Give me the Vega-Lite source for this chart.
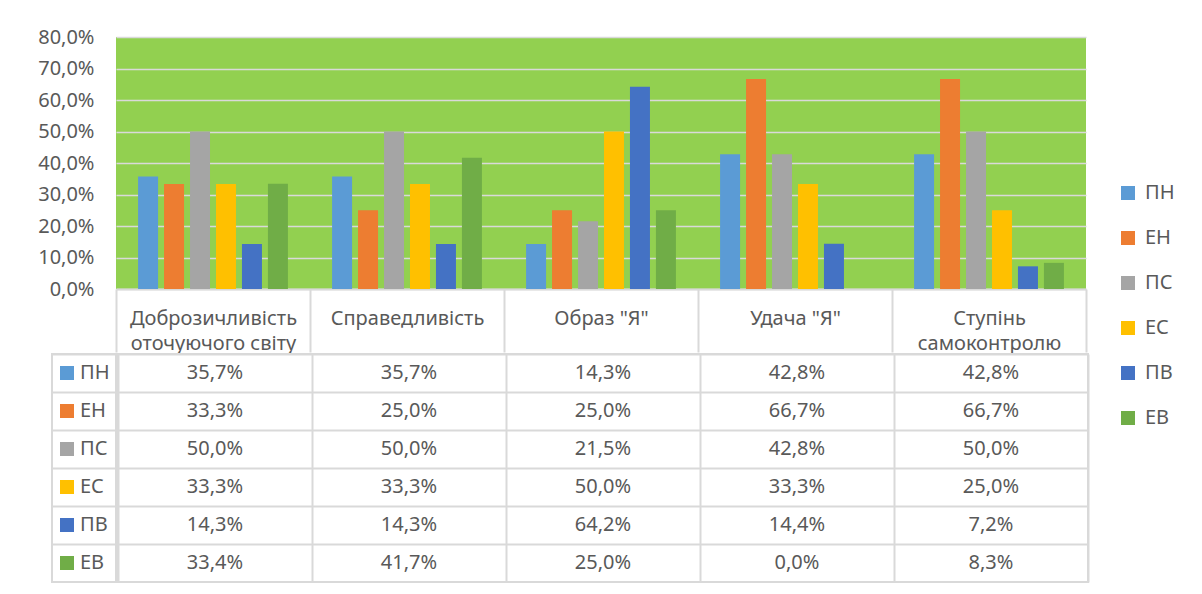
{
  "$schema": "https://vega.github.io/schema/vega-lite/v6.json",
  "padding": {"left": 37, "top": 27, "right": 0, "bottom": 0},
  "background": "white",
  "config": {
    "locale": {"number": {"decimal": ",", "thousands": " ", "grouping": [3], "currency": ["", ""]}},
    "font": "Noto Sans",
    "view": {"stroke": null},
    "concat": {"spacing": 0}
  },
  "datasets": {
    "vals": [
      {"category": "Доброзичливість оточуючого світу", "series": "ПН", "value": 0.357},
      {"category": "Доброзичливість оточуючого світу", "series": "ЕН", "value": 0.333},
      {"category": "Доброзичливість оточуючого світу", "series": "ПС", "value": 0.5},
      {"category": "Доброзичливість оточуючого світу", "series": "ЕС", "value": 0.333},
      {"category": "Доброзичливість оточуючого світу", "series": "ПВ", "value": 0.143},
      {"category": "Доброзичливість оточуючого світу", "series": "ЕВ", "value": 0.334},
      {"category": "Справедливість", "series": "ПН", "value": 0.357},
      {"category": "Справедливість", "series": "ЕН", "value": 0.25},
      {"category": "Справедливість", "series": "ПС", "value": 0.5},
      {"category": "Справедливість", "series": "ЕС", "value": 0.333},
      {"category": "Справедливість", "series": "ПВ", "value": 0.143},
      {"category": "Справедливість", "series": "ЕВ", "value": 0.417},
      {"category": "Образ \"Я\"", "series": "ПН", "value": 0.143},
      {"category": "Образ \"Я\"", "series": "ЕН", "value": 0.25},
      {"category": "Образ \"Я\"", "series": "ПС", "value": 0.215},
      {"category": "Образ \"Я\"", "series": "ЕС", "value": 0.5},
      {"category": "Образ \"Я\"", "series": "ПВ", "value": 0.642},
      {"category": "Образ \"Я\"", "series": "ЕВ", "value": 0.25},
      {"category": "Удача \"Я\"", "series": "ПН", "value": 0.428},
      {"category": "Удача \"Я\"", "series": "ЕН", "value": 0.667},
      {"category": "Удача \"Я\"", "series": "ПС", "value": 0.428},
      {"category": "Удача \"Я\"", "series": "ЕС", "value": 0.333},
      {"category": "Удача \"Я\"", "series": "ПВ", "value": 0.144},
      {"category": "Удача \"Я\"", "series": "ЕВ", "value": 0.0},
      {"category": "Ступінь самоконтролю", "series": "ПН", "value": 0.428},
      {"category": "Ступінь самоконтролю", "series": "ЕН", "value": 0.667},
      {"category": "Ступінь самоконтролю", "series": "ПС", "value": 0.5},
      {"category": "Ступінь самоконтролю", "series": "ЕС", "value": 0.25},
      {"category": "Ступінь самоконтролю", "series": "ПВ", "value": 0.072},
      {"category": "Ступінь самоконтролю", "series": "ЕВ", "value": 0.083}
    ],
    "seriesList": [
      {"series": "ПН"}, {"series": "ЕН"}, {"series": "ПС"}, {"series": "ЕС"}, {"series": "ПВ"}, {"series": "ЕВ"}
    ]
  },
  "vconcat": [
    {
      "spacing": 0,
      "bounds": "flush",
      "hconcat": [
        {
          "data": {"values": []},
          "width": 64,
          "height": 252,
          "mark": {"type": "point", "opacity": 0}
        },
        {
          "data": {"name": "vals"},
          "width": 970,
          "height": 252,
          "view": {"fill": "#92d050", "stroke": null},
          "mark": {"type": "bar"},
          "encoding": {
            "x": {
              "field": "category", "type": "nominal",
              "sort": ["Доброзичливість оточуючого світу", "Справедливість", "Образ \"Я\"", "Удача \"Я\"", "Ступінь самоконтролю"],
              "scale": {"paddingInner": 0, "paddingOuter": 0},
              "axis": {
                "title": null, "orient": "bottom", "labelAngle": 0,
                "tickBand": "extent", "tickSize": 63, "tickColor": "#d9d9d9", "tickWidth": 2,
                "domainColor": "#d9d9d9", "domainWidth": 2,
                "labelPadding": -34, "labelBaseline": "middle", "labelLineHeight": 25,
                "labelFontSize": 20, "labelColor": "#595959", "labelLimit": 0, "labelOverlap": false,
                "labelExpr": "indexof(datum.label, ' ') > 0 && length(datum.label) > 12 ? [slice(datum.label, 0, indexof(datum.label, ' ')), slice(datum.label, indexof(datum.label, ' ') + 1)] : datum.label",
                "minExtent": 63, "maxExtent": 63
              }
            },
            "y": {
              "field": "value", "type": "quantitative",
              "scale": {"domain": [0, 0.8], "nice": false},
              "axis": {
                "title": null, "format": ".1%",
                "values": [0, 0.1, 0.2, 0.3, 0.4, 0.5, 0.6, 0.7, 0.8],
                "grid": true, "gridColor": "#d9d9d9", "gridWidth": 1.5,
                "domain": false, "ticks": false, "labelPadding": 22,
                "labelFontSize": 20, "labelColor": "#595959"
              }
            },
            "xOffset": {
              "field": "series", "type": "nominal",
              "sort": ["ПН", "ЕН", "ПС", "ЕС", "ПВ", "ЕВ"],
              "scale": {"paddingInner": 0.23, "paddingOuter": 0.85}
            },
            "color": {
              "field": "series", "type": "nominal",
              "sort": ["ПН", "ЕН", "ПС", "ЕС", "ПВ", "ЕВ"],
              "scale": {"domain": ["ПН", "ЕН", "ПС", "ЕС", "ПВ", "ЕВ"], "range": ["#5b9bd5", "#ed7d31", "#a5a5a5", "#ffc000", "#4472c4", "#70ad47"]},
              "legend": {
                "title": null, "orient": "none", "legendX": 1066, "legendY": 146,
                "symbolType": "square", "symbolSize": 196, "symbolStrokeWidth": 0,
                "labelFontSize": 20, "labelColor": "#595959", "rowPadding": 25, "labelOffset": 7, "padding": 0
              }
            }
          }
        }
      ]
    },
    {
      "spacing": 0,
      "hconcat": [
        {
          "data": {"name": "seriesList"},
          "width": 64,
          "height": 228,
          "view": {"stroke": "#d9d9d9", "strokeWidth": 2},
          "encoding": {
            "y": {
              "field": "series", "type": "nominal",
              "sort": ["ПН", "ЕН", "ПС", "ЕС", "ПВ", "ЕВ"],
              "scale": {"paddingInner": 0, "paddingOuter": 0},
              "axis": {"title": null, "labels": false, "ticks": false, "domain": false, "grid": true, "tickBand": "extent", "gridColor": "#d9d9d9", "gridWidth": 2}
            }
          },
          "layer": [
            {
              "mark": {"type": "point", "shape": "square", "filled": true, "size": 196, "opacity": 1},
              "encoding": {
                "xOffset": {"value": -17},
                "color": {
                  "field": "series", "type": "nominal",
                  "sort": ["ПН", "ЕН", "ПС", "ЕС", "ПВ", "ЕВ"],
                  "scale": {"domain": ["ПН", "ЕН", "ПС", "ЕС", "ПВ", "ЕВ"], "range": ["#5b9bd5", "#ed7d31", "#a5a5a5", "#ffc000", "#4472c4", "#70ad47"]},
                  "legend": {
                    "title": null, "orient": "none", "legendX": 1066, "legendY": 146,
                    "symbolType": "square", "symbolSize": 196, "symbolStrokeWidth": 0,
                    "labelFontSize": 20, "labelColor": "#595959", "rowPadding": 25, "labelOffset": 7, "padding": 0
                  }
                }
              }
            },
            {
              "mark": {"type": "text", "align": "left", "baseline": "middle", "dx": -4, "fontSize": 20, "color": "#595959"},
              "encoding": {"text": {"field": "series", "type": "nominal"}}
            }
          ]
        },
        {
          "data": {"name": "vals"},
          "width": 970,
          "height": 228,
          "view": {"stroke": "#d9d9d9", "strokeWidth": 2},
          "mark": {"type": "text", "fontSize": 20, "color": "#595959", "baseline": "middle"},
          "encoding": {
            "x": {
              "field": "category", "type": "nominal",
              "sort": ["Доброзичливість оточуючого світу", "Справедливість", "Образ \"Я\"", "Удача \"Я\"", "Ступінь самоконтролю"],
              "scale": {"paddingInner": 0, "paddingOuter": 0},
              "axis": {"title": null, "labels": false, "ticks": false, "domain": false, "grid": true, "tickBand": "extent", "gridColor": "#d9d9d9", "gridWidth": 2}
            },
            "y": {
              "field": "series", "type": "nominal",
              "sort": ["ПН", "ЕН", "ПС", "ЕС", "ПВ", "ЕВ"],
              "scale": {"paddingInner": 0, "paddingOuter": 0},
              "axis": {"title": null, "labels": false, "ticks": false, "domain": false, "grid": true, "tickBand": "extent", "gridColor": "#d9d9d9", "gridWidth": 2}
            },
            "text": {"field": "value", "type": "quantitative", "format": ".1%"}
          }
        }
      ]
    }
  ]
}
